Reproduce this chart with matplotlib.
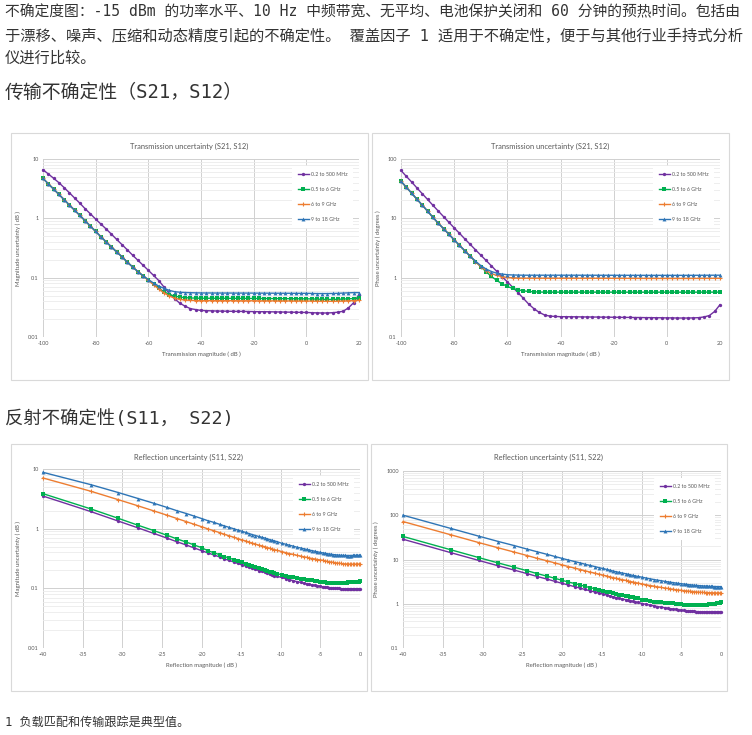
import matplotlib
matplotlib.use('Agg')
import matplotlib.pyplot as plt
from matplotlib.ticker import LogLocator, NullFormatter
from matplotlib.patches import Rectangle

# ---------------- data ----------------
series_names = ['0.2 to 500 MHz', '0.5 to 6 GHz', '6 to 9 GHz', '9 to 18 GHz']

trans_x = list(range(-100, 21, 2))

trans_mag_purple = [6.6, 5.6, 4.75, 4.0, 3.3, 2.7, 2.2, 1.8, 1.45, 1.19,
                    0.97, 0.80, 0.66, 0.54, 0.44, 0.36, 0.295, 0.24, 0.197, 0.162,
                    0.133, 0.109, 0.089, 0.069, 0.054, 0.044, 0.037, 0.033, 0.030, 0.029,
                    0.028, 0.0278, 0.0276, 0.0274, 0.0273, 0.0272, 0.0271, 0.0270, 0.0270, 0.0269,
                    0.0268, 0.0267, 0.0267, 0.0266, 0.0265, 0.0264, 0.0263, 0.0262, 0.0261, 0.0260,
                    0.0259, 0.0257, 0.0255, 0.0254, 0.0254, 0.0257, 0.0262, 0.0272, 0.031, 0.038, 0.052]
trans_mag_green = [4.7, 3.83, 3.12, 2.54, 2.07, 1.68, 1.37, 1.12, 0.91, 0.74,
                   0.60, 0.49, 0.40, 0.33, 0.27, 0.225, 0.183, 0.152, 0.127, 0.107,
                   0.091, 0.078, 0.066, 0.058, 0.052, 0.049, 0.047, 0.046, 0.0455, 0.0452,
                   0.0450, 0.0450, 0.0450, 0.0449, 0.0449, 0.0449, 0.0448, 0.0448, 0.0447, 0.0447,
                   0.0446, 0.0446, 0.0445, 0.0445, 0.0444, 0.0444, 0.0443, 0.0442, 0.0441, 0.0440,
                   0.0440, 0.0438, 0.0435, 0.0432, 0.0430, 0.0430, 0.0432, 0.0436, 0.0440, 0.0445, 0.0450]
trans_mag_orange = [4.7, 3.83, 3.12, 2.54, 2.07, 1.68, 1.37, 1.12, 0.91, 0.74,
                    0.60, 0.49, 0.40, 0.33, 0.27, 0.225, 0.183, 0.152, 0.127, 0.107,
                    0.090, 0.076, 0.064, 0.055, 0.049, 0.045, 0.043, 0.042, 0.0415, 0.0412,
                    0.0410, 0.0410, 0.0410, 0.0410, 0.0409, 0.0409, 0.0409, 0.0408, 0.0408, 0.0408,
                    0.0408, 0.0407, 0.0407, 0.0407, 0.0406, 0.0406, 0.0406, 0.0405, 0.0405, 0.0405,
                    0.0405, 0.0403, 0.0402, 0.0401, 0.0400, 0.0400, 0.0402, 0.0405, 0.0408, 0.0410, 0.0415]
trans_mag_blue = [4.7, 3.83, 3.12, 2.54, 2.07, 1.68, 1.37, 1.12, 0.91, 0.74,
                  0.60, 0.49, 0.40, 0.33, 0.27, 0.225, 0.183, 0.152, 0.127, 0.108,
                  0.093, 0.081, 0.072, 0.066, 0.061, 0.058, 0.0568, 0.0562, 0.0558, 0.0555,
                  0.0553, 0.0552, 0.0552, 0.0551, 0.0551, 0.0551, 0.0550, 0.0550, 0.0550, 0.0550,
                  0.0549, 0.0549, 0.0548, 0.0548, 0.0547, 0.0547, 0.0546, 0.0546, 0.0545, 0.0545,
                  0.0545, 0.0543, 0.0540, 0.0540, 0.0540, 0.0542, 0.0545, 0.0550, 0.0555, 0.0560, 0.0560]

trans_phase_purple = [64, 51, 41, 32.5, 26, 20.8, 16.6, 13.3, 10.7, 8.6,
                      6.9, 5.6, 4.5, 3.65, 2.95, 2.4, 1.95, 1.58, 1.28, 1.04,
                      0.85, 0.69, 0.56, 0.45, 0.36, 0.30, 0.26, 0.235, 0.225, 0.222,
                      0.220, 0.220, 0.219, 0.219, 0.218, 0.218, 0.217, 0.217, 0.216, 0.216,
                      0.215, 0.215, 0.214, 0.214, 0.213, 0.213, 0.212, 0.212, 0.211, 0.211,
                      0.210, 0.210, 0.209, 0.209, 0.209, 0.210, 0.212, 0.218, 0.230, 0.270, 0.350]
trans_phase_green = [42, 33.5, 26.5, 21, 16.7, 13.2, 10.4, 8.3, 6.7, 5.4,
                     4.35, 3.5, 2.85, 2.3, 1.87, 1.53, 1.26, 1.05, 0.90, 0.79,
                     0.71, 0.66, 0.625, 0.60, 0.585, 0.578, 0.572, 0.570, 0.570, 0.570,
                     0.570, 0.570, 0.570, 0.570, 0.570, 0.570, 0.570, 0.570, 0.570, 0.570,
                     0.569, 0.569, 0.569, 0.569, 0.569, 0.569, 0.569, 0.569, 0.569, 0.569,
                     0.569, 0.569, 0.569, 0.569, 0.569, 0.569, 0.570, 0.570, 0.570, 0.570, 0.570]
trans_phase_orange = [42, 33.5, 26.5, 21, 16.7, 13.2, 10.4, 8.3, 6.7, 5.4,
                      4.35, 3.5, 2.85, 2.3, 1.87, 1.53, 1.32, 1.17, 1.09, 1.04,
                      1.01, 0.995, 0.985, 0.98, 0.98, 0.98, 0.98, 0.98, 0.98, 0.98,
                      0.98, 0.98, 0.98, 0.979, 0.979, 0.978, 0.978, 0.977, 0.977, 0.976,
                      0.975, 0.975, 0.974, 0.974, 0.973, 0.973, 0.972, 0.972, 0.971, 0.971,
                      0.970, 0.970, 0.970, 0.970, 0.970, 0.971, 0.972, 0.973, 0.974, 0.975, 0.975]
trans_phase_blue = [42, 33.5, 26.5, 21, 16.7, 13.2, 10.4, 8.3, 6.7, 5.4,
                    4.35, 3.5, 2.85, 2.3, 1.9, 1.6, 1.4, 1.27, 1.19, 1.15,
                    1.12, 1.11, 1.105, 1.10, 1.10, 1.10, 1.10, 1.10, 1.10, 1.10,
                    1.10, 1.10, 1.10, 1.10, 1.099, 1.099, 1.099, 1.098, 1.098, 1.098,
                    1.097, 1.097, 1.097, 1.096, 1.096, 1.096, 1.095, 1.095, 1.095, 1.095,
                    1.095, 1.095, 1.095, 1.095, 1.096, 1.096, 1.097, 1.098, 1.099, 1.10, 1.10]

refl_x = [-40.0, -34.0, -30.5, -28.0, -26.0, -24.4, -23.1, -21.9, -20.9, -20.0,
          -19.2, -18.4, -17.7, -17.1, -16.5, -15.9, -15.4, -14.9, -14.4, -14.0,
          -13.6, -13.2, -12.8, -12.4, -12.0, -11.7, -11.4, -11.1, -10.8, -10.5,
          -9.9, -9.4, -8.9, -8.4, -8.0, -7.5, -7.1, -6.7, -6.4, -6.0,
          -5.7, -5.4, -5.0, -4.7, -4.4, -4.2, -3.9, -3.6, -3.4, -3.1,
          -2.9, -2.6, -2.4, -2.2, -1.9, -1.7, -1.5, -1.3, -1.1, -0.9,
          -0.7, -0.5, -0.35, -0.18, 0.0]

refl_mag_purple = [3.52, 1.94, 1.34, 1.03, 0.830, 0.698, 0.603, 0.531, 0.474, 0.429,
                   0.392, 0.361, 0.335, 0.312, 0.293, 0.276, 0.261, 0.247, 0.236, 0.225,
                   0.216, 0.207, 0.199, 0.192, 0.186, 0.180, 0.175, 0.170, 0.164, 0.160,
                   0.152, 0.146, 0.140, 0.134, 0.130, 0.126, 0.122, 0.119, 0.116, 0.114,
                   0.112, 0.110, 0.108, 0.106, 0.105, 0.104, 0.103, 0.102, 0.101, 0.100,
                   0.100, 0.0994, 0.0985, 0.0985, 0.0985, 0.0977, 0.0977, 0.0977, 0.0977, 0.0977,
                   0.0977, 0.0977, 0.0985, 0.0985, 0.0985]
refl_mag_green = [3.86, 2.15, 1.49, 1.14, 0.926, 0.779, 0.674, 0.594, 0.531, 0.481,
                  0.427, 0.394, 0.365, 0.341, 0.321, 0.302, 0.286, 0.272, 0.260, 0.248,
                  0.238, 0.228, 0.219, 0.211, 0.204, 0.197, 0.191, 0.186, 0.181, 0.176,
                  0.169, 0.163, 0.157, 0.152, 0.148, 0.145, 0.142, 0.140, 0.138, 0.136,
                  0.134, 0.132, 0.130, 0.128, 0.126, 0.124, 0.123, 0.122, 0.122, 0.122,
                  0.122, 0.123, 0.123, 0.124, 0.124, 0.125, 0.126, 0.126, 0.127, 0.128,
                  0.128, 0.129, 0.130, 0.130, 0.131]
refl_mag_orange = [7.07, 4.25, 3.06, 2.41, 1.98, 1.69, 1.48, 1.31, 1.18, 1.08,
                   0.992, 0.919, 0.857, 0.804, 0.757, 0.717, 0.681, 0.649, 0.621, 0.595,
                   0.571, 0.551, 0.531, 0.514, 0.498, 0.483, 0.469, 0.457, 0.445, 0.434,
                   0.414, 0.397, 0.382, 0.370, 0.358, 0.347, 0.338, 0.330, 0.322, 0.315,
                   0.310, 0.304, 0.299, 0.295, 0.288, 0.283, 0.279, 0.275, 0.272, 0.269,
                   0.266, 0.263, 0.261, 0.259, 0.257, 0.256, 0.255, 0.254, 0.253, 0.253,
                   0.253, 0.254, 0.254, 0.255, 0.256]
refl_mag_blue = [8.79, 5.48, 4.03, 3.20, 2.66, 2.28, 2.00, 1.79, 1.62, 1.48,
                 1.36, 1.27, 1.18, 1.11, 1.05, 0.994, 0.945, 0.902, 0.863, 0.828,
                 0.796, 0.768, 0.741, 0.717, 0.696, 0.675, 0.656, 0.639, 0.623, 0.608,
                 0.570, 0.550, 0.528, 0.508, 0.490, 0.475, 0.460, 0.448, 0.437, 0.427,
                 0.418, 0.409, 0.400, 0.393, 0.387, 0.381, 0.376, 0.372, 0.368, 0.365,
                 0.362, 0.360, 0.358, 0.357, 0.356, 0.355, 0.355, 0.355, 0.355, 0.356,
                 0.356, 0.357, 0.357, 0.358, 0.358]

refl_phase_purple = [28.7, 14.3, 9.56, 7.18, 5.75, 4.80, 4.12, 3.61, 3.21, 2.90,
                     2.65, 2.43, 2.25, 2.10, 1.97, 1.85, 1.75, 1.66, 1.58, 1.51,
                     1.44, 1.38, 1.33, 1.28, 1.24, 1.20, 1.16, 1.13, 1.09, 1.07,
                     1.01, 0.968, 0.928, 0.894, 0.865, 0.837, 0.814, 0.791, 0.774, 0.756,
                     0.745, 0.728, 0.716, 0.705, 0.699, 0.688, 0.682, 0.676, 0.670, 0.665,
                     0.665, 0.659, 0.653, 0.653, 0.653, 0.647, 0.647, 0.647, 0.647, 0.647,
                     0.647, 0.647, 0.653, 0.653, 0.653]
refl_phase_green = [33.2, 16.6, 11.09, 8.33, 6.68, 5.58, 4.79, 4.21, 3.76, 3.39,
                    3.10, 2.86, 2.65, 2.47, 2.32, 2.19, 2.08, 1.98, 1.89, 1.81,
                    1.74, 1.67, 1.61, 1.56, 1.51, 1.47, 1.43, 1.39, 1.36, 1.33,
                    1.23, 1.19, 1.15, 1.12, 1.09, 1.07, 1.05, 1.04, 1.03, 1.02,
                    1.00, 0.985, 0.97, 0.96, 0.95, 0.94, 0.935, 0.93, 0.925, 0.925,
                    0.925, 0.93, 0.935, 0.94, 0.95, 0.96, 0.97, 0.98, 0.99, 1.00,
                    1.01, 1.03, 1.04, 1.05, 1.07]
refl_phase_orange = [72.0, 36.2, 24.2, 18.3, 14.7, 12.3, 10.6, 9.35, 8.37, 7.57,
                     6.93, 6.39, 5.94, 5.56, 5.22, 4.93, 4.68, 4.45, 4.25, 4.06,
                     3.90, 3.75, 3.62, 3.50, 3.38, 3.28, 3.18, 3.09, 3.01, 2.94,
                     2.80, 2.68, 2.58, 2.49, 2.41, 2.34, 2.27, 2.22, 2.17, 2.12,
                     2.08, 2.04, 2.01, 1.98, 1.95, 1.93, 1.90, 1.89, 1.86, 1.85,
                     1.83, 1.82, 1.81, 1.80, 1.79, 1.78, 1.78, 1.77, 1.76, 1.76,
                     1.75, 1.75, 1.75, 1.75, 1.75]
refl_phase_blue = [100.3, 50.4, 33.8, 25.5, 20.6, 17.2, 14.9, 13.1, 11.7, 10.6,
                   9.73, 8.98, 8.35, 7.82, 7.35, 6.94, 6.58, 6.27, 5.98, 5.73,
                   5.50, 5.29, 5.11, 4.93, 4.78, 4.63, 4.50, 4.37, 4.26, 4.15,
                   3.97, 3.80, 3.65, 3.52, 3.41, 3.31, 3.21, 3.13, 3.07, 3.00,
                   2.94, 2.88, 2.84, 2.79, 2.75, 2.72, 2.68, 2.65, 2.62, 2.60,
                   2.58, 2.56, 2.54, 2.52, 2.51, 2.49, 2.48, 2.47, 2.46, 2.45,
                   2.45, 2.44, 2.44, 2.44, 2.43]

trans_xticks = [-100, -80, -60, -40, -20, 0, 20]
refl_xticks = [-40, -35, -30, -25, -20, -15, -10, -5, 0]
ytick_mag = [0.01, 0.1, 1, 10]
ytick_mag_labels = ['0.01', '0.1', '1', '10']
ytick_tphase = [0.1, 1, 10, 100]
ytick_tphase_labels = ['0.1', '1', '10', '100']
ytick_rphase = [0.1, 1, 10, 100, 1000]
ytick_rphase_labels = ['0.1', '1', '10', '100', '1000']

text_line1 = '不确定度图：-15 dBm 的功率水平、10 Hz 中频带宽、无平均、电池保护关闭和 60 分钟的预热时间。包括由'
text_line2 = '于漂移、噪声、压缩和动态精度引起的不确定性。 覆盖因子 1 适用于不确定性，便于与其他行业手持式分析'
text_line3 = '仪进行比较。'
heading1 = '传输不确定性（S21，S12）'
heading2 = '反射不确定性(S11， S22)'
footnote = '1 负载匹配和传输跟踪是典型值。'

# ---------------- style ----------------
W, H = 752, 735
fig = plt.figure(figsize=(W / 100, H / 100), dpi=100)
fig.patch.set_facecolor('white')


def fx(px):
    return px / W


def fy(py):
    return 1 - py / H


cjk = ['DejaVu Sans Mono', 'Noto Sans CJK SC']
txt_color = '#333333'
fig.text(fx(5), fy(12), text_line1, family=cjk, fontsize=10.65, color=txt_color, va='center', ha='left')
fig.text(fx(5), fy(36), text_line2, family=cjk, fontsize=11.0, color=txt_color, va='center', ha='left')
fig.text(fx(5), fy(58), text_line3, family=cjk, fontsize=11.0, color=txt_color, va='center', ha='left')
fig.text(fx(5), fy(92), heading1, family=cjk, fontsize=13.6, color=txt_color, va='center', ha='left')
fig.text(fx(5), fy(420), heading2, family=cjk, fontsize=13.2, color=txt_color, va='center', ha='left')
fig.text(fx(5), fy(722), footnote, family=cjk, fontsize=8.7, color=txt_color, va='center', ha='left')

styles = [
    dict(color='#7030A0', marker='o', ms=2.4, mew=0),
    dict(color='#00B050', marker='s', ms=2.6, mew=0),
    dict(color='#ED7D31', marker='+', ms=3.0, mew=0.8),
    dict(color='#2E75B6', marker='^', ms=2.8, mew=0),
]

chart_font = 'Lato'
gray = '#595959'


def chart(box, axpx, title, xs, series, yticks, ylabels, xticks, xlabel, ylabel):
    bx0, by0, bx1, by1 = box
    fig.add_artist(Rectangle((fx(bx0), fy(by1)), fx(bx1) - fx(bx0), fy(by0) - fy(by1),
                             transform=fig.transFigure, fill=False, edgecolor='#d9d9d9', lw=0.8))
    x0, y0, x1, y1 = axpx
    ax = fig.add_axes([fx(x0), fy(y1), fx(x1) - fx(x0), fy(y0) - fy(y1)])
    for ys, st, name in zip(series, styles, series_names):
        ax.plot(xs, ys, lw=1.0, label=name, clip_on=False, **st)
    ax.set_yscale('log')
    ax.set_ylim(yticks[0], yticks[-1])
    ax.set_xlim(xticks[0], xticks[-1])
    ax.set_xticks(xticks)
    ax.set_xticklabels([str(t) for t in xticks])
    ax.set_yticks(yticks)
    ax.set_yticklabels(ylabels)
    ax.yaxis.set_minor_locator(LogLocator(base=10, subs=range(2, 10)))
    ax.yaxis.set_minor_formatter(NullFormatter())
    ax.grid(which='major', color='#d0d0d0', lw=0.7)
    ax.grid(which='minor', axis='y', color='#ebebeb', lw=0.6)
    ax.set_axisbelow(True)
    for s in ax.spines.values():
        s.set_visible(False)
    ax.tick_params(which='both', length=0, labelsize=4, colors=gray, pad=3)
    for lab in ax.get_xticklabels() + ax.get_yticklabels():
        lab.set_family(chart_font)
    ax.set_xlabel(xlabel, fontsize=4.3, color=gray, family=chart_font, labelpad=4)
    ax.set_ylabel(ylabel, fontsize=4.3, color=gray, family=chart_font, labelpad=5)
    fig.text(fx((bx0 + bx1) / 2), fy(by0 + 13), title, fontsize=5.4, color=gray,
             family=chart_font, ha='center', va='center')
    leg = ax.legend(loc='upper right', bbox_to_anchor=(0.99, 0.975), fontsize=3.8,
                    frameon=True, facecolor='white', edgecolor='none', framealpha=1,
                    labelspacing=1.9, handlelength=2.2, borderpad=1.1, handletextpad=0.3,
                    prop={'family': chart_font, 'size': 3.8})
    for t in leg.get_texts():
        t.set_color(gray)
    return ax


chart((11, 133, 368, 380), (43, 159, 359, 337), 'Transmission uncertainty (S21, S12)',
      trans_x, [trans_mag_purple, trans_mag_green, trans_mag_orange, trans_mag_blue],
      ytick_mag, ytick_mag_labels, trans_xticks,
      'Transmission magnitude ( dB )', 'Magnitude uncertainty ( dB )')
chart((372, 133, 729, 380), (401, 159, 720, 337), 'Transmission uncertainty (S21, S12)',
      trans_x, [trans_phase_purple, trans_phase_green, trans_phase_orange, trans_phase_blue],
      ytick_tphase, ytick_tphase_labels, trans_xticks,
      'Transmission magnitude ( dB )', 'Phase uncertainty ( degrees )')
chart((11, 444, 367, 691), (43, 469, 360, 648), 'Reflection uncertainty (S11, S22)',
      refl_x, [refl_mag_purple, refl_mag_green, refl_mag_orange, refl_mag_blue],
      ytick_mag, ytick_mag_labels, refl_xticks,
      'Reflection magnitude ( dB )', 'Magnitude uncertainty ( dB )')
chart((371, 444, 727, 691), (403, 471, 721, 648), 'Reflection uncertainty (S11, S22)',
      refl_x, [refl_phase_purple, refl_phase_green, refl_phase_orange, refl_phase_blue],
      ytick_rphase, ytick_rphase_labels, refl_xticks,
      'Reflection magnitude ( dB )', 'Phase uncertainty ( degrees )')

fig.savefig('out.png', dpi=100, facecolor='white')
